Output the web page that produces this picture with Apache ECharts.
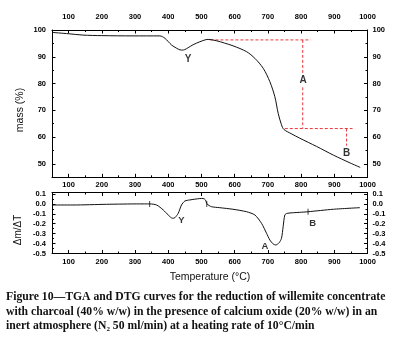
<!DOCTYPE html>
<html><head><meta charset="utf-8">
<script src="https://cdn.jsdelivr.net/npm/echarts@6/dist/echarts.min.js"></script>
<style>html,body{margin:0;padding:0;background:#fff}#c{width:404px;height:343px}</style>
</head><body><div id="c"></div>
<script>
// ---- data ----
const xMajor = [100,200,300,400,500,600,700,800,900,1000];
const xMinor = [50,150,250,350,450,550,650,750,850,950];
const massMajor = [50,60,70,80,90,100];
const massMinor = [45,55,65,75,85,95];
const dtgMajor = [-0.5,-0.4,-0.3,-0.2,-0.1,0.0,0.1];
const dtgMinor = [-0.45,-0.35,-0.25,-0.15,-0.05,0.05];

const tgaT    = [50, 100, 143, 200, 294, 375, 390, 410, 425, 435, 443, 450, 460, 475, 495, 520, 545, 570, 595, 636, 661, 686, 706, 721, 731, 741, 748, 770, 796, 847, 897, 947, 978];
const tgaMass = [99.1, 98.6, 98.1, 97.9, 97.8, 97.8, 96.9, 94.4, 93.2, 92.6, 92.5, 92.7, 93.4, 94.5, 95.6, 96.5, 96.0, 95.1, 94.1, 91.9, 89.4, 85.7, 80.7, 75.1, 68.9, 64.6, 62.9, 61.3, 59.6, 56.5, 53.3, 50.4, 48.7];

const dtgT   = [51, 113, 214, 314, 344, 365, 385, 400, 413, 420, 430, 440, 450, 465, 495, 505, 512, 517, 530, 555, 595, 636, 661, 681, 696, 706, 716, 724, 734, 741, 746, 751, 758, 796, 821, 897, 977];
const dtgVal = [-0.011, -0.011, -0.004, 0.0, 0.0, -0.011, -0.061, -0.112, -0.145, -0.139, -0.095, -0.011, 0.029, 0.040, 0.054, 0.055, 0.040, -0.001, -0.028, -0.038, -0.054, -0.079, -0.112, -0.196, -0.296, -0.364, -0.404, -0.414, -0.391, -0.347, -0.230, -0.112, -0.095, -0.085, -0.079, -0.054, -0.038];
const dtgMarkT = [344, 516, 821];
const dtgMarkVal = [0.0, 0.0, -0.079];

const annoAh  = [[527, 96.3], [829, 96.3]];
const annoAv1 = [[805, 96.3], [805, 83.5]];
const annoAv2 = [[805, 78.6], [805, 63.2]];
const annoBh  = [[751, 63.2], [955, 63.2]];
const annoBv  = [[937, 63.2], [937, 56.8]];

const tgaLabels = [[460, 89.1, 'Y'], [806, 81.3, 'A'], [937, 54.0, 'B']];
const dtgLabels = [[440, -0.162, 'Y'], [691, -0.431, 'A'], [835, -0.196, 'B']];

const xLabel = 'Temperature (°C)';
const massLabel = 'mass (%)';
const dtgLabel = 'Δm/ΔT';
const caption = [
  'Figure 10—TGA and DTG curves for the reduction of willemite concentrate',
  'with charcoal (40% w/w) in the presence of calcium oxide (20% w/w) in an',
  'inert atmosphere (N\u2082 50 ml/min) at a heating rate of 10°C/min'
];

// ---- chart ----
const SANS = '"Liberation Sans", Arial, sans-serif';
const tickFont = {fontFamily: SANS, fontWeight: 'bold', fontSize: 7.5, color: '#000'};
const grids = [
  {left: 52, right: 36.5, top: 30, height: 147.3},
  {left: 52, right: 36.5, top: 192.5, height: 61}
];
function xAx(grid, pos, minor, showLabel, margin) {
  return {
    type: 'value', gridIndex: grid, position: pos, min: 50, max: 1000, interval: 50,
    splitLine: {show: false},
    axisLine: {show: !minor, onZero: false, lineStyle: {color: '#000', width: 1}},
    axisTick: {show: true, inside: true, length: minor ? 2 : 3.5, customValues: minor ? xMinor : xMajor, lineStyle: {color: '#000', width: 1}},
    axisLabel: {show: !minor && showLabel, customValues: xMajor, margin: margin, formatter: v => String(v), ...tickFont}
  };
}
function yAx(grid, pos, minor, min, max, major, minorVals, fmt, margin) {
  return {
    type: 'value', gridIndex: grid, position: pos, min: min, max: max, interval: grid === 0 ? 5 : 0.05,
    splitLine: {show: false},
    axisLine: {show: !minor, onZero: false, lineStyle: {color: '#000', width: 1}},
    axisTick: {show: true, inside: true, length: minor ? 2 : 3.5, customValues: minor ? minorVals : major, lineStyle: {color: '#000', width: 1}},
    axisLabel: {show: !minor, customValues: major, margin: margin, formatter: fmt, ...tickFont}
  };
}
const massFmt = v => String(Math.round(v));
const dtgFmt = v => (Math.round(v * 10) / 10).toFixed(1);

const xAxes = [
  xAx(0, 'top', false, true, 9), xAx(0, 'top', true),
  xAx(0, 'bottom', false, false, 4), xAx(0, 'bottom', true),
  xAx(1, 'top', false, true, 4), xAx(1, 'top', true),
  xAx(1, 'bottom', false, true, 4.5), xAx(1, 'bottom', true)
];
const yAxes = [
  yAx(0, 'left', false, 45, 100, massMajor, massMinor, massFmt, 6), yAx(0, 'left', true, 45, 100, massMajor, massMinor, massFmt, 6),
  yAx(0, 'right', false, 45, 100, massMajor, massMinor, massFmt, 5), yAx(0, 'right', true, 45, 100, massMajor, massMinor, massFmt, 5),
  yAx(1, 'left', false, -0.5, 0.115, dtgMajor, dtgMinor, dtgFmt, 6), yAx(1, 'left', true, -0.5, 0.115, dtgMajor, dtgMinor, dtgFmt, 6),
  yAx(1, 'right', false, -0.5, 0.115, dtgMajor, dtgMinor, dtgFmt, 5), yAx(1, 'right', true, -0.5, 0.115, dtgMajor, dtgMinor, dtgFmt, 5)
];

const red = '#e8383d';
function anno(d) {
  return {type: 'line', xAxisIndex: 2, yAxisIndex: 0, data: d, symbol: 'none', silent: true,
    lineStyle: {color: red, width: 1, type: [3, 2]}, z: 3};
}
function labelSeries(d, xi, yi, size) {
  return {type: 'scatter', xAxisIndex: xi, yAxisIndex: yi, data: d, symbolSize: 0, silent: true,
    label: {show: true, position: 'inside', formatter: p => p.data[2], fontFamily: SANS, fontWeight: 'bold', fontSize: size, color: '#000'}};
}

const option = {
  animation: false,
  backgroundColor: '#fff',
  grid: grids,
  xAxis: xAxes,
  yAxis: yAxes,
  series: [
    {type: 'line', xAxisIndex: 2, yAxisIndex: 0, data: tgaT.map((t, i) => [t, tgaMass[i]]), symbol: 'none', smooth: 0.3,
      lineStyle: {color: '#111', width: 1}, z: 4},
    anno(annoAh), anno(annoAv1), anno(annoAv2), anno(annoBh), anno(annoBv),
    labelSeries(tgaLabels, 2, 0, 10),
    {type: 'line', xAxisIndex: 6, yAxisIndex: 4, data: dtgT.map((t, i) => [t, dtgVal[i]]), symbol: 'none', smooth: 0.25,
      lineStyle: {color: '#111', width: 1}},
    {type: 'scatter', xAxisIndex: 6, yAxisIndex: 4, data: dtgMarkT.map((t, i) => [t, dtgMarkVal[i]]), symbol: 'rect', symbolSize: [1, 6],
      itemStyle: {color: '#111'}, silent: true},
    labelSeries(dtgLabels, 6, 4, 9.5)
  ],
  graphic: [
    {type: 'text', x: 20, y: 110, rotation: Math.PI / 2, style: {text: massLabel, font: '10.5px ' + SANS, fill: '#111', align: 'center', verticalAlign: 'middle'}},
    {type: 'text', x: 18.5, y: 230, rotation: Math.PI / 2, style: {text: dtgLabel, font: '10px ' + SANS, fill: '#111', align: 'center', verticalAlign: 'middle'}},
    {type: 'text', x: 210, y: 276.7, style: {text: xLabel, font: '10.5px ' + SANS, fill: '#111', align: 'center', verticalAlign: 'middle'}},
    {type: 'text', x: 6, y: 297, style: {text: caption[0], font: 'bold 11.7px "Liberation Serif", serif', fill: '#111', align: 'left', verticalAlign: 'middle'}},
    {type: 'text', x: 6, y: 311.7, style: {text: caption[1], font: 'bold 11.7px "Liberation Serif", serif', fill: '#111', align: 'left', verticalAlign: 'middle'}},
    {type: 'text', x: 6, y: 326.2, style: {text: caption[2], font: 'bold 11.7px "Liberation Serif", serif', fill: '#111', align: 'left', verticalAlign: 'middle'}}
  ]
};
const chart = echarts.init(document.getElementById('c'), null, {renderer: 'canvas'});
chart.setOption(option);
</script></body></html>
